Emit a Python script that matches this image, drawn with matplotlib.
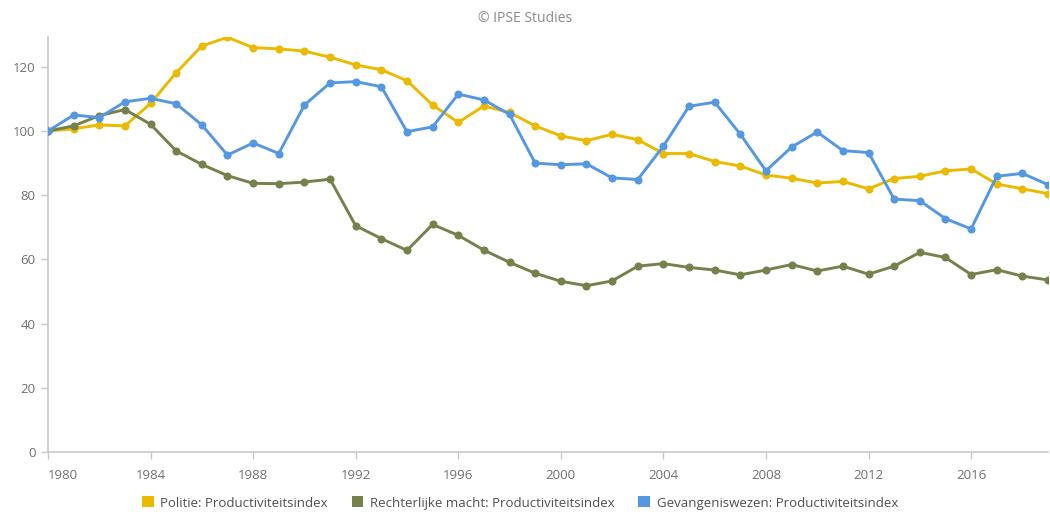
import matplotlib
matplotlib.use("Agg")
import matplotlib.pyplot as plt
from matplotlib.patches import Patch

plt.rcParams['font.family'] = ['Open Sans', 'DejaVu Sans']

years = list(range(1980, 2020))

politie = [100, 100.7, 101.9, 101.6, 108.6, 118.2, 126.5, 129.2, 126.0, 125.6,
           124.9, 123.0, 120.6, 119.1, 115.7, 108.1, 102.7, 107.8, 105.8, 101.6,
           98.5, 97.0, 99.0, 97.3, 93.0, 93.0, 90.5, 89.1, 86.3, 85.3,
           83.8, 84.3, 82.0, 85.2, 85.9, 87.6, 88.2, 83.5, 82.0, 80.5]

rechterlijke = [100, 101.6, 104.8, 106.7, 102.1, 93.8, 89.6, 86.1, 83.7, 83.6,
                84.1, 85.0, 70.5, 66.5, 62.8, 70.9, 67.5, 62.9, 59.1, 55.7,
                53.2, 51.8, 53.3, 57.9, 58.7, 57.5, 56.7, 55.2, 56.7, 58.4,
                56.4, 57.9, 55.4, 57.9, 62.2, 60.6, 55.3, 56.8, 54.8, 53.6]

gevangenis = [100, 105.0, 104.2, 109.1, 110.2, 108.5, 101.9, 92.5, 96.3, 93.0,
              108.1, 115.0, 115.4, 113.8, 99.8, 101.3, 111.5, 109.7, 105.2, 90.0,
              89.5, 89.8, 85.4, 84.9, 95.3, 107.7, 109.0, 99.0, 87.6, 95.0,
              99.7, 93.9, 93.3, 78.8, 78.3, 72.7, 69.5, 85.9, 86.8, 83.3]

labels = ["Politie: Productiviteitsindex",
          "Rechterlijke macht: Productiviteitsindex",
          "Gevangeniswezen: Productiviteitsindex"]
colors = ["#EBBA00", "#75814B", "#5598E2"]
series = [politie, rechterlijke, gevangenis]

xticks = [1980, 1984, 1988, 1992, 1996, 2000, 2004, 2008, 2012, 2016]
yticks = [0, 20, 40, 60, 80, 100, 120]

fig = plt.figure(figsize=(10.5, 5.12), dpi=100)
ax = fig.add_axes([48/1050, 1 - 452/512, 1000/1050, (452 - 37)/512])

for vals, c, lab in zip(series, colors, labels):
    ax.plot(years, vals, color=c, lw=2.1, marker='o', markersize=5.8,
            markeredgewidth=0, label=lab, zorder=3)

ax.set_xlim(1980, 2019)
ax.set_ylim(0, 129.3)
ax.set_xticks(xticks)
ax.set_yticks(yticks)
ax.set_xticklabels([str(t) for t in xticks])
ax.get_xticklabels()[0].set_horizontalalignment('left')

for s in ['top', 'right']:
    ax.spines[s].set_visible(False)
for s in ['left', 'bottom']:
    ax.spines[s].set_color('#C8C8C8')
    ax.spines[s].set_linewidth(1.2)
ax.tick_params(axis='both', colors='#C8C8C8', labelcolor='#707070',
               labelsize=9.5, length=5, width=1)
ax.tick_params(axis='x', pad=7)
ax.tick_params(axis='y', pad=4)

fig.text(0.5, 1 - 19/512, "© IPSE Studies", ha='center', va='center',
         fontsize=10, color='#8A8A8A')

handles = [Patch(facecolor=c, edgecolor='none') for c in colors]
fig.legend(handles, labels, loc='center', bbox_to_anchor=(520/1050, 1 - 503/512),
           ncol=3, frameon=False, fontsize=9.5, handlelength=0.9, handleheight=0.9,
           handletextpad=0.5, columnspacing=1.8, labelcolor='#505050')

fig.savefig("out.png", dpi=100)
